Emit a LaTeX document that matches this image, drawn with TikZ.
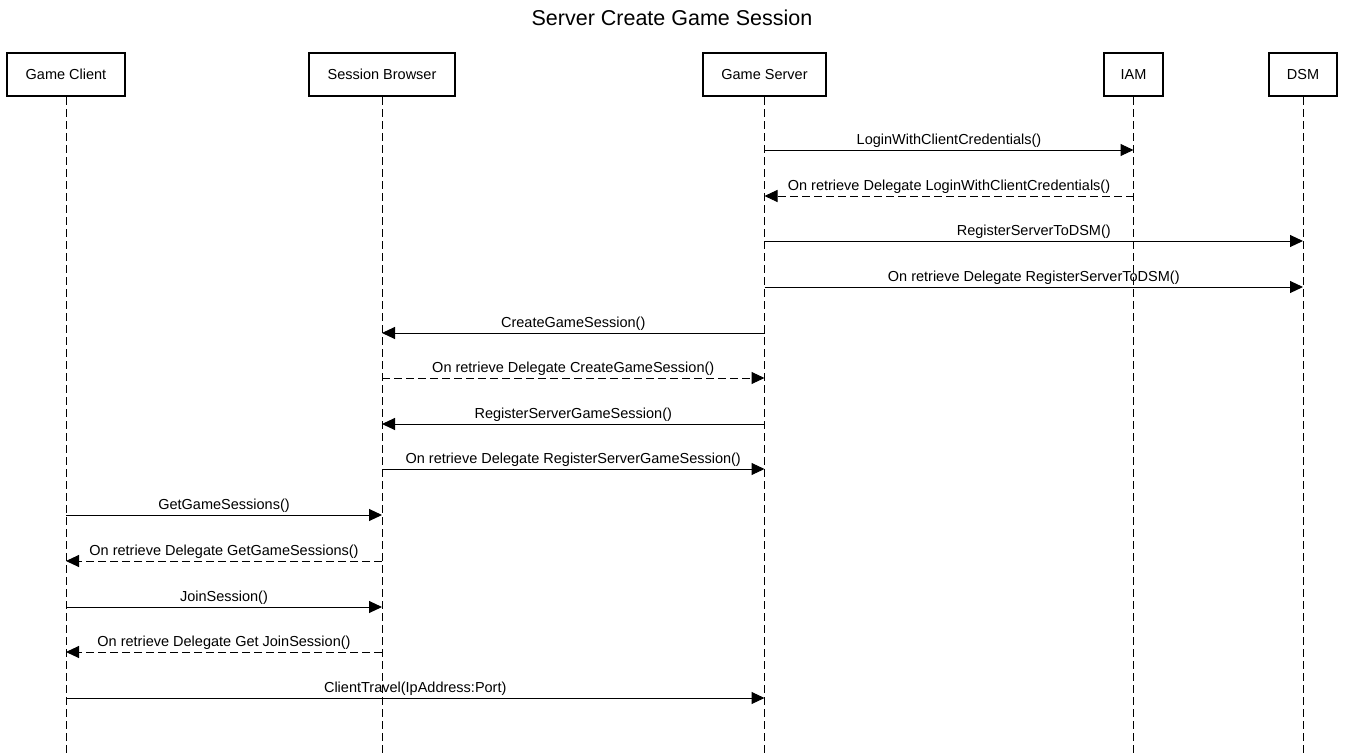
\documentclass[tikz,border=0pt]{standalone}
\usepackage{fontspec}
\setmainfont{Liberation Sans}
\usetikzlibrary{arrows.meta}
\begin{document}
\begin{tikzpicture}[x=1pt,y=-1pt,
  actor/.style={draw,line width=2.6pt,minimum height=43pt,inner sep=0pt,font=\fontsize{14.5}{17}\selectfont},
  life/.style={line width=1pt,dash pattern=on 8pt off 4pt},
  msg/.style={line width=1pt,-{Triangle[length=13pt,width=12pt]}},
  ret/.style={msg,dash pattern=on 8pt off 4pt},
  lbl/.style={midway,above=1pt,font=\fontsize{14.5}{17}\selectfont,inner sep=1pt}]
\useasboundingbox (0,0) rectangle (1345,755);
\node[font=\fontsize{21.5}{25}\selectfont] (title) at (672,18) {Server Create Game Session};
\node[actor,minimum width=118pt] (gc) at (66,74.5) {Game Client};
\node[actor,minimum width=146pt] (sb) at (382,74.5) {Session Browser};
\node[actor,minimum width=123pt] (gs) at (764.5,74.5) {Game Server};
\node[actor,minimum width=59pt] (iam) at (1133.5,74.5) {IAM};
\node[actor,minimum width=68pt] (dsm) at (1303,74.5) {DSM};
\coordinate (bot) at (0,755);
\foreach \a in {gc,sb,gs,iam,dsm} \draw[life] (\a.south) -- (\a.south |- bot);
\foreach \n/\y in {1/150,2/196,3/241,4/287,5/333,6/378,7/424,8/469,9/515,10/561,11/607,12/652,13/698}
  \coordinate (r\n) at (0,\y);
\draw[msg] (gs |- r1) -- (iam |- r1) node[lbl] {LoginWithClientCredentials()};
\draw[ret] (iam |- r2) -- (gs |- r2) node[lbl] {On retrieve Delegate LoginWithClientCredentials()};
\draw[msg] (gs |- r3) -- (dsm |- r3) node[lbl] {RegisterServerToDSM()};
\draw[msg] (gs |- r4) -- (dsm |- r4) node[lbl] {On retrieve Delegate RegisterServerToDSM()};
\draw[msg] (gs |- r5) -- (sb |- r5) node[lbl] {CreateGameSession()};
\draw[ret] (sb |- r6) -- (gs |- r6) node[lbl] {On retrieve Delegate CreateGameSession()};
\draw[msg] (gs |- r7) -- (sb |- r7) node[lbl] {RegisterServerGameSession()};
\draw[msg] (sb |- r8) -- (gs |- r8) node[lbl] {On retrieve Delegate RegisterServerGameSession()};
\draw[msg] (gc |- r9) -- (sb |- r9) node[lbl] {GetGameSessions()};
\draw[ret] (sb |- r10) -- (gc |- r10) node[lbl] {On retrieve Delegate GetGameSessions()};
\draw[msg] (gc |- r11) -- (sb |- r11) node[lbl] {JoinSession()};
\draw[ret] (sb |- r12) -- (gc |- r12) node[lbl] {On retrieve Delegate Get JoinSession()};
\draw[msg] (gc |- r13) -- (gs |- r13) node[lbl] {ClientTravel(IpAddress:Port)};
\end{tikzpicture}
\end{document}
